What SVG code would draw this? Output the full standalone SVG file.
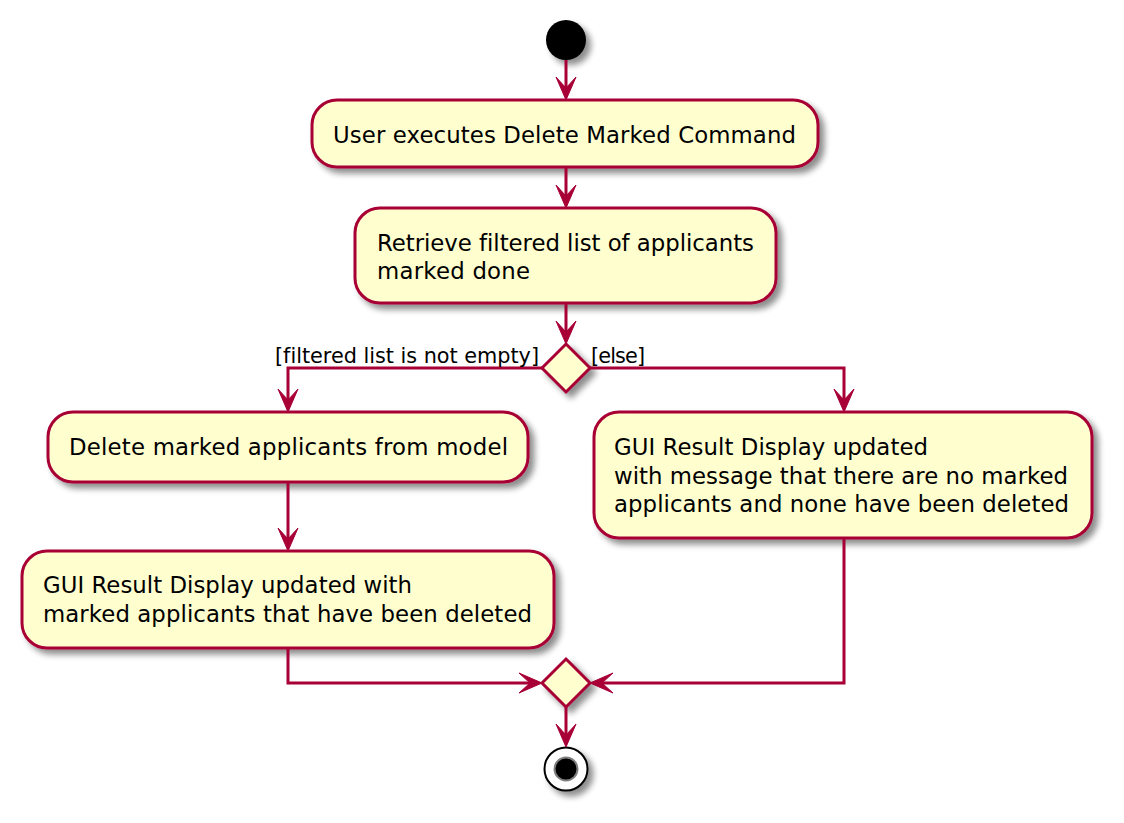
<svg xmlns="http://www.w3.org/2000/svg" width="1124" height="823" viewBox="0 0 1124 823">
<defs>
<filter id="sh" x="-20%" y="-20%" width="150%" height="160%">
<feGaussianBlur in="SourceAlpha" stdDeviation="3"/>
<feOffset dx="5" dy="5" result="b"/>
<feComponentTransfer><feFuncA type="linear" slope="0.45"/></feComponentTransfer>
<feMerge><feMergeNode/><feMergeNode in="SourceGraphic"/></feMerge>
</filter>
<marker id="ah" viewBox="-25 -12 28 24" refX="-12" refY="0" markerWidth="28" markerHeight="24" markerUnits="userSpaceOnUse" orient="auto">
<path d="M0,0 L-23,-10 L-12,0 L-23,10 Z" fill="#A80036" stroke="#A80036" stroke-width="1" stroke-linejoin="miter"/>
</marker>
</defs>
<style>
.box{fill:#FEFECE;stroke:#A80036;stroke-width:3;filter:url(#sh)}
.t{font-family:"DejaVu Sans","Liberation Sans",sans-serif;font-size:22.8px;fill:#000;font-variant-ligatures:none}
.lbl{font-family:"DejaVu Sans","Liberation Sans",sans-serif;font-size:20.8px;fill:#000;font-variant-ligatures:none}
.c{fill:none;stroke:#A80036;stroke-width:3;marker-end:url(#ah)}
</style>
<rect width="1124" height="823" fill="#fff"/>

<g id="start">
<circle cx="566" cy="40" r="20" fill="#000" filter="url(#sh)"/>
</g>

<g id="n1">
<rect class="box" x="312" y="100" width="506" height="67" rx="25" ry="25"/>
<text class="t" x="333" y="143" textLength="463">User executes Delete Marked Command</text>
</g>

<g id="n2">
<rect class="box" x="355" y="208" width="421" height="95" rx="25" ry="25"/>
<text class="t" x="377" y="251" textLength="377">Retrieve filtered list of applicants</text>
<text class="t" x="377" y="279" textLength="153">marked done</text>
</g>

<g id="d1">
<polygon class="box" points="566,344 590,368 566,392 542,368"/>
</g>

<g id="n3">
<rect class="box" x="48" y="412" width="480" height="70" rx="25" ry="25"/>
<text class="t" x="69" y="455" textLength="439">Delete marked applicants from model</text>
</g>

<g id="n4">
<rect class="box" x="594" y="412" width="498" height="126" rx="25" ry="25"/>
<text class="t" x="614" y="455" textLength="314">GUI Result Display updated</text>
<text class="t" x="614" y="483.5" textLength="454">with message that there are no marked</text>
<text class="t" x="614" y="512" textLength="455">applicants and none have been deleted</text>
</g>

<g id="n5">
<rect class="box" x="22" y="551" width="532" height="97" rx="25" ry="25"/>
<text class="t" x="43" y="593" textLength="369">GUI Result Display updated with</text>
<text class="t" x="43" y="622" textLength="489">marked applicants that have been deleted</text>
</g>

<g id="d2">
<polygon class="box" points="566,659 590,683 566,707 542,683"/>
</g>

<g id="end">
<circle cx="566" cy="769" r="21.5" fill="#fff" stroke="#000" stroke-width="2" filter="url(#sh)"/>
<circle cx="566" cy="769" r="11.5" fill="#000" stroke="#7f7f7f" stroke-width="2"/>
</g>

<g id="connectors">
<path class="c" d="M566,60 V88"/>
<path class="c" d="M566,167 V196"/>
<path class="c" d="M566,303 V332"/>
<path class="c" d="M542,368 H288 V400"/>
<path class="c" d="M590,368 H844 V400"/>
<path class="c" d="M288,482 V539"/>
<path class="c" d="M288,648 V683 H530"/>
<path class="c" d="M844,538 V683 H602"/>
<path class="c" d="M566,707 V735"/>
<text class="lbl" x="275" y="363" textLength="264">[filtered list is not empty]</text>
<text class="lbl" x="591" y="363" textLength="54">[else]</text>
</g>
</svg>
